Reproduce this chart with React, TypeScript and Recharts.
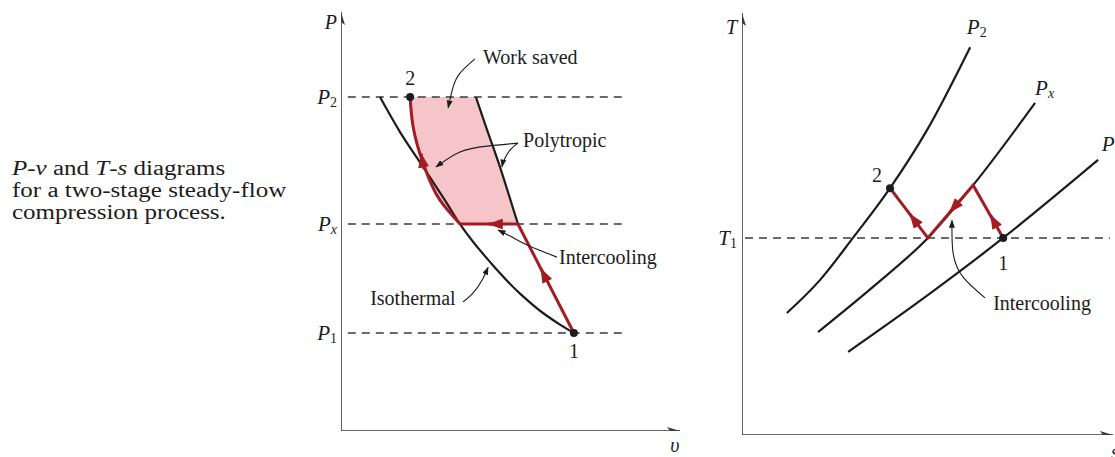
import React from 'react'
import {
  ComposedChart, Line, Area, XAxis, YAxis, ReferenceLine, ReferenceDot,
} from 'recharts'

const FONT = '"Liberation Serif", "Times New Roman", serif'
const INK = '#1c1c1c'
const AXIS = '#3a3a3a'
const RED = '#a31c22'
const PINK = '#f6c5c9'

// ─── P-v diagram (v across, P up; curves are read as v(P)) ───────────────────

const P1 = 2.34
const PX = 4.94
const P2 = 7.97
const V1 = 6.87
const V2 = 2.04

const isoP = [2.34, 2.54, 2.78, 3.28, 4.03, 4.94, 5.44, 6.16, 7.11, 7.97]
const isoV = [6.87, 6.46, 6.02, 5.28, 4.4, 3.51, 3.12, 2.54, 1.76, 1.15]

// second stage (red) and the un-cooled polytropic (black) share these P samples
const polyP = [4.94, 5.51, 6.4, 7.3, 7.97]
const stage2V = [3.51, 2.92, 2.42, 2.12, 2.04]
const polyV = [5.22, 5.0, 4.65, 4.26, 3.98]

const stage1V = [6.87, 5.22]
const stage1P = [2.34, 4.94]
const coolV = [5.22, 3.51]
const coolP = [4.94, 4.94]

// annotation leaders, tail → tip
const workLeadV = [3.95, 3.51, 3.3, 3.16]
const workLeadP = [8.88, 8.54, 8.19, 7.71]
const polyLeadAV = [5.22, 4.31, 3.51, 2.8]
const polyLeadAP = [6.87, 6.8, 6.66, 6.3]
const polyLeadBV = [5.22, 4.99, 4.81, 4.75]
const polyLeadBP = [6.87, 6.71, 6.47, 6.3]
const coolLeadV = [6.37, 5.49, 5.04, 4.63]
const coolLeadP = [4.15, 4.44, 4.63, 4.8]
const isoLeadV = [3.6, 3.89, 4.16, 4.34]
const isoLeadP = [3.08, 3.29, 3.6, 3.91]

// red direction arrows, tail → tip
const pvArrows = [
  { v: [6.05, 5.9], P: [3.63, 3.87] },
  { v: [4.75, 4.36], P: [4.94, 4.94] },
  { v: [2.45, 2.36], P: [6.25, 6.62] },
]

// ─── T-s diagram ─────────────────────────────────────────────────────────────

const T1 = 4.67
const sP2 = [1.21, 2.1, 2.99, 3.99, 4.99, 6.15]
const TP2 = [2.89, 3.67, 4.67, 5.85, 7.23, 9.19]
const sPx = [2.05, 3.53, 5.01, 6.23, 7.9]
const TPx = [2.44, 3.51, 4.67, 5.92, 7.87]
const sP1 = [2.86, 4.72, 7.04, 9.6]
const TP1 = [1.97, 3.13, 4.67, 6.52]

const pathS = [7.04, 6.23, 5.01, 3.99]
const pathT = [4.67, 5.92, 4.67, 5.85]

const tsLeadS = [6.55, 5.96, 5.69, 5.66]
const tsLeadT = [3.25, 3.74, 4.31, 5.09]

const tsArrows = [
  { s: [6.8, 6.7], T: [5.05, 5.21] },
  { s: [5.74, 5.6], T: [5.42, 5.28] },
  { s: [4.63, 4.53], T: [5.11, 5.23] },
]

const pv = (v: number[], P: number[]) => v.map((x, i) => ({ v: x, P: P[i] }))
const ts = (s: number[], T: number[]) => s.map((x, i) => ({ s: x, T: T[i] }))

const workSaved = polyP.map((P, i) => ({ P, range: [stage2V[i], polyV[i]] }))

// ─── helpers ─────────────────────────────────────────────────────────────────

function Markers({ id }: { id: string }) {
  return (
    <defs>
      <marker id={`${id}-axis`} viewBox="0 0 13 8" refX="13" refY="4" markerWidth="13" markerHeight="8"
        markerUnits="userSpaceOnUse" orient="auto">
        <path d="M0,0 L13,4 L0,8 L3,4 z" fill={AXIS} />
      </marker>
      <marker id={`${id}-red`} viewBox="0 0 15 11" refX="14" refY="5.5" markerWidth="15" markerHeight="11"
        markerUnits="userSpaceOnUse" orient="auto">
        <path d="M0,0 L15,5.5 L0,11 z" fill={RED} />
      </marker>
      <marker id={`${id}-lead`} viewBox="0 0 8 6" refX="7.5" refY="3" markerWidth="8" markerHeight="6"
        markerUnits="userSpaceOnUse" orient="auto">
        <path d="M0,0 L8,3 L0,6 z" fill={INK} />
      </marker>
    </defs>
  )
}

const note = (text: string, anchor: 'start' | 'middle' | 'end' = 'start', italic = false) =>
  (p: any) => (
    <text x={p.cx} y={p.cy} textAnchor={anchor} dominantBaseline="central" fontFamily={FONT}
      fontSize={20} fontStyle={italic ? 'italic' : 'normal'} fill={INK}>
      {text}
    </text>
  )

const subNote = (base: string, sub: string, anchor: 'start' | 'end' = 'start', subItalic = false) =>
  (p: any) => (
    <text x={p.cx} y={p.cy} textAnchor={anchor} dominantBaseline="central" fontFamily={FONT}
      fontSize={21} fill={INK}>
      <tspan fontStyle="italic">{base}</tspan>
      <tspan fontSize={14} dy={5} fontStyle={subItalic ? 'italic' : 'normal'}>{sub}</tspan>
    </text>
  )

const P_NAMES: Record<number, string> = { [P1]: '1', [PX]: 'x', [P2]: '2' }

function PTick(props: any) {
  const { x, y, payload } = props
  const sub = P_NAMES[payload.value]
  return subNote('P', sub, 'end', sub === 'x')({ cx: x, cy: y })
}

function TTick(props: any) {
  const { x, y } = props
  return subNote('T', '1', 'end')({ cx: x, cy: y })
}

const lineBase = {
  dot: false as const,
  activeDot: false as const,
  isAnimationActive: false,
  legendType: 'none' as const,
}

// ─── charts ──────────────────────────────────────────────────────────────────

function PvDiagram() {
  return (
    <ComposedChart width={400} height={457} layout="vertical"
      margin={{ top: 12, right: 10, bottom: 26, left: 5 }}>
      <Markers id="pv" />
      <XAxis type="number" dataKey="v" domain={[0, 10]} hide allowDataOverflow />
      <YAxis type="number" dataKey="P" domain={[0, 10]} ticks={[P1, PX, P2]} interval={0} reversed
        axisLine={false} tickLine={false} tickSize={0} tickMargin={4} width={46}
        tick={PTick} allowDataOverflow />

      <Area data={workSaved} dataKey="range" type="monotone" fill={PINK} fillOpacity={1}
        stroke="none" isAnimationActive={false} legendType="none" activeDot={false} />

      {[P1, PX, P2].map((p) => (
        <ReferenceLine key={p} segment={[{ x: 0.2, y: p }, { x: 8.3, y: p }]}
          stroke={AXIS} strokeWidth={1.5} strokeDasharray="8 6" ifOverflow="visible" />
      ))}

      <Line {...lineBase} data={pv([0, 0], [0, 10])} dataKey="v" type="linear"
        stroke={AXIS} strokeWidth={1.6} markerEnd="url(#pv-axis)" />
      <Line {...lineBase} data={pv([0, 10], [0, 0])} dataKey="v" type="linear"
        stroke={AXIS} strokeWidth={1.6} markerEnd="url(#pv-axis)" />

      <Line {...lineBase} data={pv(isoV, isoP)} dataKey="v" type="monotone" stroke={INK} strokeWidth={2.2} />
      <Line {...lineBase} data={pv(polyV, polyP)} dataKey="v" type="monotone" stroke={INK} strokeWidth={2.2} />
      <Line {...lineBase} data={pv(stage2V, polyP)} dataKey="v" type="monotone" stroke={RED} strokeWidth={3} />
      <Line {...lineBase} data={pv(stage1V, stage1P)} dataKey="v" type="linear" stroke={RED} strokeWidth={3} />
      <Line {...lineBase} data={pv(coolV, coolP)} dataKey="v" type="linear" stroke={RED} strokeWidth={3} />
      {pvArrows.map((a, i) => (
        <Line key={i} {...lineBase} data={pv(a.v, a.P)} dataKey="v" type="linear" stroke={RED}
          strokeWidth={3} markerEnd="url(#pv-red)" />
      ))}

      {[
        [workLeadV, workLeadP], [polyLeadAV, polyLeadAP], [polyLeadBV, polyLeadBP],
        [coolLeadV, coolLeadP], [isoLeadV, isoLeadP],
      ].map(([v, P], i) => (
        <Line key={`lead${i}`} {...lineBase} data={pv(v, P)} dataKey="v" type="natural"
          stroke={INK} strokeWidth={1.1} markerEnd="url(#pv-lead)" />
      ))}

      <ReferenceDot x={V1} y={P1} r={4} fill={INK} stroke="none" ifOverflow="visible" />
      <ReferenceDot x={V2} y={P2} r={4} fill={INK} stroke="none" ifOverflow="visible" />

      <ReferenceDot x={V1} y={1.9} ifOverflow="visible" shape={note('1', 'middle')} />
      <ReferenceDot x={V2} y={8.42} ifOverflow="visible" shape={note('2', 'middle')} />
      <ReferenceDot x={4.19} y={8.93} ifOverflow="visible" shape={note('Work saved')} />
      <ReferenceDot x={5.37} y={6.95} ifOverflow="visible" shape={note('Polytropic')} />
      <ReferenceDot x={6.43} y={4.15} ifOverflow="visible" shape={note('Intercooling')} />
      <ReferenceDot x={0.86} y={3.17} ifOverflow="visible" shape={note('Isothermal')} />
      <ReferenceDot x={-0.12} y={9.75} ifOverflow="visible" shape={note('P', 'end', true)} />
      <ReferenceDot x={9.85} y={-0.33} ifOverflow="visible" shape={note('υ', 'middle', true)} />
    </ComposedChart>
  )
}

function TsDiagram() {
  return (
    <ComposedChart width={425} height={457} margin={{ top: 13, right: 2, bottom: 22, left: 6 }}>
      <Markers id="ts" />
      <XAxis type="number" dataKey="s" domain={[0, 10]} hide allowDataOverflow />
      <YAxis type="number" domain={[0, 10]} ticks={[T1]} interval={0} axisLine={false}
        tickLine={false} tickSize={0} tickMargin={5} width={46} tick={TTick} allowDataOverflow />

      <ReferenceLine segment={[{ x: 0.08, y: T1 }, { x: 9.92, y: T1 }]} stroke={AXIS}
        strokeWidth={1.5} strokeDasharray="8 6" ifOverflow="visible" />

      <Line {...lineBase} data={ts([0, 0], [0, 10])} dataKey="T" type="linear"
        stroke={AXIS} strokeWidth={1.6} markerEnd="url(#ts-axis)" />
      <Line {...lineBase} data={ts([0, 10], [0, 0])} dataKey="T" type="linear"
        stroke={AXIS} strokeWidth={1.6} markerEnd="url(#ts-axis)" />

      <Line {...lineBase} data={ts(sP2, TP2)} dataKey="T" type="monotone" stroke={INK} strokeWidth={2.2} />
      <Line {...lineBase} data={ts(sPx, TPx)} dataKey="T" type="monotone" stroke={INK} strokeWidth={2.2} />
      <Line {...lineBase} data={ts(sP1, TP1)} dataKey="T" type="monotone" stroke={INK} strokeWidth={2.2} />

      <Line {...lineBase} data={ts(pathS, pathT)} dataKey="T" type="linear" stroke={RED} strokeWidth={3} />
      {tsArrows.map((a, i) => (
        <Line key={i} {...lineBase} data={ts(a.s, a.T)} dataKey="T" type="linear" stroke={RED}
          strokeWidth={3} markerEnd="url(#ts-red)" />
      ))}

      <Line {...lineBase} data={ts(tsLeadS, tsLeadT)} dataKey="T" type="natural" stroke={INK}
        strokeWidth={1.1} markerEnd="url(#ts-lead)" />

      <ReferenceDot x={pathS[0]} y={pathT[0]} r={4} fill={INK} stroke="none" ifOverflow="visible" />
      <ReferenceDot x={pathS[3]} y={pathT[3]} r={4} fill={INK} stroke="none" ifOverflow="visible" />

      <ReferenceDot x={7.04} y={4.08} ifOverflow="visible" shape={note('1', 'middle')} />
      <ReferenceDot x={3.64} y={6.16} ifOverflow="visible" shape={note('2', 'middle')} />
      <ReferenceDot x={6.77} y={3.13} ifOverflow="visible" shape={note('Intercooling')} />
      <ReferenceDot x={6.06} y={9.67} ifOverflow="visible" shape={subNote('P', '2')} />
      <ReferenceDot x={7.9} y={8.22} ifOverflow="visible" shape={subNote('P', 'x', 'start', true)} />
      <ReferenceDot x={9.7} y={6.9} ifOverflow="visible" shape={subNote('P', '1')} />
      <ReferenceDot x={-0.13} y={9.67} ifOverflow="visible" shape={note('T', 'end', true)} />
      <ReferenceDot x={10.05} y={-0.4} ifOverflow="visible" shape={note('s', 'middle', true)} />
    </ComposedChart>
  )
}

export default function App() {
  return (
    <div style={{ position: 'absolute', left: 0, top: 0, width: 1115, height: 457, background: '#fff', overflow: 'hidden' }}>
      <div style={{
        position: 'absolute', left: 12, top: 157, fontFamily: FONT, fontSize: 20, lineHeight: '22px',
        color: INK, whiteSpace: 'nowrap', transform: 'scaleX(1.25)', transformOrigin: 'left top',
      }}>
        <div><i>P</i>-<i>v</i> and <i>T</i>-<i>s</i> diagrams</div>
        <div>for a two-stage steady-flow</div>
        <div>compression process.</div>
      </div>
      <div style={{ position: 'absolute', left: 290, top: 0 }}>
        <PvDiagram />
      </div>
      <div style={{ position: 'absolute', left: 690, top: 0 }}>
        <TsDiagram />
      </div>
    </div>
  )
}
